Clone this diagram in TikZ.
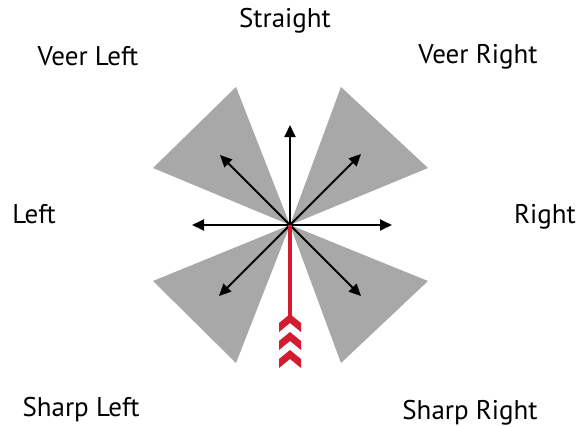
\documentclass[tikz,border=0pt]{standalone}
\usepackage{fontspec}
\setmainfont{PT Sans}
\usepackage{tikz}
\usetikzlibrary{arrows.meta}

\definecolor{wedgegray}{RGB}{168,168,168}
\definecolor{tailred}{RGB}{212,28,48}

\begin{document}
\begin{tikzpicture}[
    x=1pt,
    y=1pt,
    >={Triangle[length=12pt, width=11pt]},
    wedge/.style={fill=wedgegray, draw=none},
    dirarrow/.style={->, line width=1.8pt, black},
    tail/.style={line width=3.6pt, tailred},
    fletch/.style={fill=tailred, draw=none},
    label/.style={anchor=base, font=\fontsize{27}{32}\selectfont}
]
\useasboundingbox (-290,-201) rectangle (287,225);

% wedges behind the arrows
\fill[wedge] (0,0) -- (-54,138) -- (-137,57) -- cycle;
\fill[wedge] (0,0) -- (51,138) -- (138,57) -- cycle;
\fill[wedge] (0,0) -- (-137,-56) -- (-54,-138) -- cycle;
\fill[wedge] (0,0) -- (138,-56) -- (51,-138) -- cycle;

\coordinate (c) at (0,0);
\coordinate (tipN) at (0,100);
\coordinate (tipNE) at (71,71);
\coordinate (tipE) at (102,0);
\coordinate (tipSE) at (71,-71);
\coordinate (tipSW) at (-71,-71);
\coordinate (tipW) at (-98,0);
\coordinate (tipNW) at (-70,70);
\coordinate (tailend) at (0,-96);

\draw[dirarrow] (c) -- (tipN);
\draw[dirarrow] (c) -- (tipNE);
\draw[dirarrow] (c) -- (tipE);
\draw[dirarrow] (c) -- (tipSE);
\draw[dirarrow] (c) -- (tipSW);
\draw[dirarrow] (c) -- (tipW);
\draw[dirarrow] (c) -- (tipNW);

% red tail with fletching
\draw[tail] (c) -- (tailend);
\foreach \p in {-89,-107,-125}
  \fill[fletch] (0,\p) -- ++(11,-9) -- ++(0,-9) -- ++(-11,9) -- ++(-11,-9) -- ++(0,9) -- cycle;

\node[label] (straight) at (-5,197) {Straight};
\node[label] (veerleft) at (-202,160) {Veer Left};
\node[label] (veerright) at (188,161) {Veer Right};
\node[label] (left) at (-256,2) {Left};
\node[label] (right) at (255,2) {Right};
\node[label] (sharpleft) at (-209,-191) {Sharp Left};
\node[label] (sharpright) at (180,-194) {Sharp Right};
\end{tikzpicture}
\end{document}
